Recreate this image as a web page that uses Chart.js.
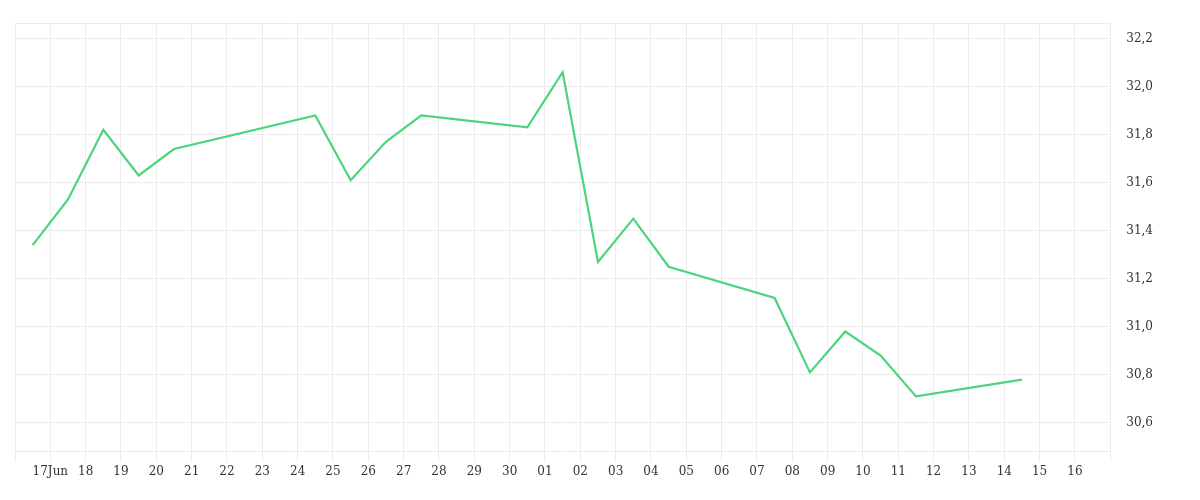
<!DOCTYPE html>
<html>
<head>
<meta charset="utf-8">
<script src="https://cdn.jsdelivr.net/npm/chart.js@4"></script>
<style>
  body { margin: 0; background: #fff; }
  #wrap { width: 1200px; height: 500px; }
</style>
</head>
<body>
<div id="wrap"><canvas id="priceChart"></canvas></div>
<script>
// days counted from 17 Jun (0 = 17Jun, 14 = 01 Jul)
var dayLabels = ["17Jun","18","19","20","21","22","23","24","25","26","27","28","29","30",
  "01","02","03","04","05","06","07","08","09","10","11","12","13","14","15","16"];
var dayPos = [-0.5, 0.5, 1.5, 2.5, 3.5, 7.5, 8.5, 9.5, 10.5, 13.5, 14.5, 15.5, 16.5, 17.5,
  20.5, 21.5, 22.5, 23.5, 24.5, 27.5];
var prices = [31.34, 31.53, 31.82, 31.63, 31.74, 31.88, 31.61, 31.77, 31.88, 31.83, 32.06,
  31.27, 31.45, 31.25, 31.12, 30.81, 30.98, 30.88, 30.71, 30.78];

var points = dayPos.map(function(d, i) { return { x: d, y: prices[i] }; });

var ctx = document.getElementById('priceChart').getContext('2d');
new Chart(ctx, {
  type: 'line',
  data: {
    datasets: [{
      data: points,
      borderColor: '#4cd47c',
      borderWidth: 2.2,
      pointRadius: 0,
      tension: 0,
      fill: false
    }]
  },
  options: {
    responsive: true,
    maintainAspectRatio: false,
    animation: false,
    layout: { padding: { left: 15, top: 1, right: 31, bottom: 18 } },
    plugins: { legend: { display: false }, tooltip: { enabled: false } },
    scales: {
      x: {
        type: 'linear',
        min: -1,
        max: 30,
        grid: { color: '#ececec', tickLength: 10 },
        border: { display: false },
        ticks: {
          stepSize: 1,
          autoSkip: false,
          maxRotation: 0,
          color: '#333',
          font: { family: 'DejaVu Serif', size: 12 },
          callback: function(v) { return (v >= 0 && v < dayLabels.length) ? dayLabels[v] : ''; }
        }
      },
      y: {
        position: 'right',
        min: 30.48,
        max: 32.264,
        grid: { color: '#ececec', tickLength: 0 },
        border: { display: false },
        ticks: {
          stepSize: 0.2,
          padding: 16,
          color: '#333',
          font: { family: 'DejaVu Serif', size: 12 },
          callback: function(v) {
            var r = Math.round(v * 10) / 10;
            if (Math.abs(r - v) > 0.001 || Math.round(r * 10) % 2 !== 0) return '';
            return r.toFixed(1).replace('.', ',');
          }
        }
      }
    }
  }
});
</script>
</body>
</html>
